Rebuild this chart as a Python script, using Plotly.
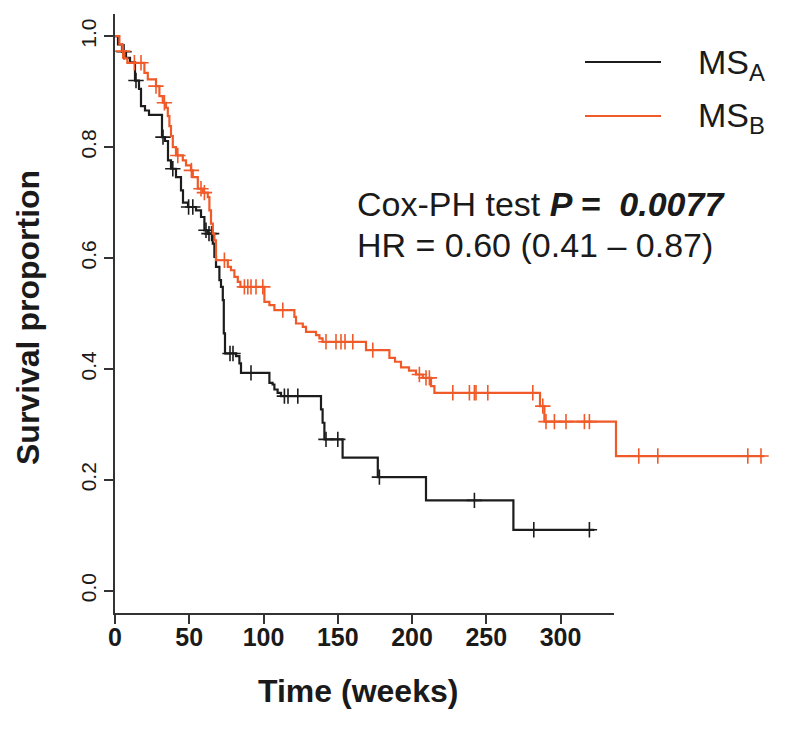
import plotly.graph_objects as go
import numpy as np

# ---- data (Kaplan-Meier steps, curve time in weeks) ----
black_t = [0, 1.5, 3.5, 5.5, 7.5, 10, 12, 13, 15, 17, 23.5, 25, 26.5, 28, 30.5, 33, 34, 36.5,
           40.5, 43, 44.7, 46.4, 48.9, 49.7, 50.5, 52.2, 53, 53.9, 54.4, 55, 60.5, 62.2, 63,
           77.2, 78.8, 79.7, 81.3, 83, 103, 103.8, 104.7, 113.8, 131.4, 155.5, 199.2]
black_s = [1.0, 0.985, 0.972, 0.961, 0.953, 0.92, 0.905, 0.874, 0.866, 0.858, 0.818, 0.811, 0.776,
           0.761, 0.746, 0.722, 0.70, 0.692, 0.686, 0.674, 0.65, 0.644, 0.626, 0.602, 0.584, 0.56,
           0.548, 0.524, 0.464, 0.428, 0.423, 0.41, 0.393, 0.375, 0.372, 0.363, 0.357, 0.351,
           0.327, 0.303, 0.273, 0.24, 0.205, 0.163, 0.110]
black_end = 239.7
black_cens = [4.5, 10.5, 24, 28.9, 36.8, 38.9, 45.5, 47, 48.3, 57.5, 59, 68, 84.7, 86.5, 91.4,
              105.5, 111.4, 132.2, 179.7, 209.4, 237.2]

orange_t = [0, 2.2, 3.7, 4.7, 6.2, 14.7, 16.4, 20.5, 22.2, 23.9, 25.5, 26.4, 27.2, 28, 28.9, 30.5,
            33.9, 35.5, 38, 38.9, 41.4, 43.9, 46.4, 47.2, 48, 48.9, 49.7, 50.5, 56.4, 58, 59.7,
            61.4, 62.7, 74.7, 77.2, 79.7, 89.7, 90.5, 93.9, 95.5, 100.5, 102.2, 103.8, 125.5,
            137.2, 140, 143, 147, 150.5, 153.9, 158, 159.7, 212.5, 214.7, 250.5]
orange_s = [1.0, 0.985, 0.973, 0.96, 0.952, 0.934, 0.922, 0.91, 0.892, 0.88, 0.871, 0.856, 0.838,
            0.82, 0.80, 0.785, 0.776, 0.767, 0.758, 0.746, 0.725, 0.718, 0.71, 0.686, 0.662, 0.644,
            0.632, 0.596, 0.584, 0.578, 0.566, 0.557, 0.548, 0.521, 0.515, 0.506, 0.494, 0.482,
            0.476, 0.467, 0.461, 0.455, 0.449, 0.434, 0.42, 0.413, 0.403, 0.397, 0.39, 0.384,
            0.369, 0.357, 0.333, 0.305, 0.243]
orange_end = 324.7
orange_cens = [3.9, 9.7, 13, 20.5, 24.7, 31.4, 38.2, 43, 44.7, 54.7, 64.7, 66.4, 68, 70.5, 73.9,
               83.9, 105.5, 110.5, 113, 115, 118.9, 128.9, 152.2, 155.5, 157.2, 168.9, 177.2,
               179.7, 180.5, 186.4, 208.9, 213.9, 215.5, 219.7, 225.5, 234.7, 237.2, 261.9,
               271.4, 316.4, 323]

x_ticks = [0, 50, 100, 150, 200, 250, 300]
y_ticks = [0.0, 0.2, 0.4, 0.6, 0.8, 1.0]

BLACK = "#1c1c1c"
ORANGE = "#F05A28"
FONT = "Liberation Sans, Arial, sans-serif"


def step_value(ts, ss, t):
    idx = np.searchsorted(np.array(ts), t, side="right") - 1
    return ss[max(idx, 0)]


fig = go.Figure()
for ts, ss, end, cens, col, name in [
    (black_t, black_s, black_end, black_cens, BLACK, "MS_A"),
    (orange_t, orange_s, orange_end, orange_cens, ORANGE, "MS_B"),
]:
    fig.add_trace(go.Scatter(x=list(ts) + [end], y=list(ss) + [ss[-1]], mode="lines",
                             line=dict(color=col, width=2.2, shape="hv"), name=name,
                             showlegend=False, xaxis="x2", yaxis="y"))
    fig.add_trace(go.Scatter(x=cens, y=[step_value(ts, ss, c) for c in cens], mode="markers",
                             marker=dict(symbol="cross-thin", size=11,
                                         line=dict(color=col, width=1.6)),
                             showlegend=False, hoverinfo="skip", xaxis="x2", yaxis="y"))
# empty trace so the labelled time axis is drawn
fig.add_trace(go.Scatter(x=[], y=[], xaxis="x", yaxis="y", showlegend=False))

L, R, T, B = 107, 13, 6, 124
PW, PH = 800 - L - R, 729 - T - B


def px(xpix):
    return (xpix - L) / PW


def py(ypix):
    return (729 - B - ypix) / PH


fig.update_layout(
    width=800, height=729,
    margin=dict(l=L, r=R, t=T, b=B),
    paper_bgcolor="white", plot_bgcolor="white",
    font=dict(family=FONT, color="#1a1a1a"),
    # labelled time axis as drawn in the reference (shorter than the plotting frame)
    xaxis=dict(domain=[0, px(606)], range=[0, 336], tickvals=x_ticks,
               ticktext=[f"<b>{v}</b>" for v in x_ticks],
               showgrid=False, zeroline=False, showline=True, linecolor="#333", linewidth=1.5,
               ticks="outside", ticklen=9, tickwidth=1.5, tickcolor="#333",
               ticklabelstandoff=-8, tickfont=dict(size=25, family=FONT), anchor="y"),
    # frame in which the curves are drawn (weeks)
    xaxis2=dict(domain=[0, 1], range=[0, 340], visible=False, anchor="y"),
    yaxis=dict(range=[-0.04, 1.04], tickvals=y_ticks, ticktext=[f"{v:.1f}" for v in y_ticks],
               showgrid=False, zeroline=False, showline=True, linecolor="#333", linewidth=1.5,
               ticks="outside", ticklen=9, tickwidth=1.5, tickcolor="#333", tickangle=-90,
               tickfont=dict(size=21, family=FONT), anchor="x"),
)

annos = [
    dict(text="<b>Time (weeks)</b>", x=px(350), y=py(683), xanchor="center", yanchor="middle",
         font=dict(size=32)),
    dict(text="<b>Survival proportion</b>", x=px(20), y=py(310), xanchor="center",
         yanchor="middle", textangle=-90, font=dict(size=32)),
    dict(text="Cox-PH test <b><i>P =&nbsp; 0.0077</i></b>", x=px(347), y=py(196),
         xanchor="left", yanchor="middle", font=dict(size=34)),
    dict(text="HR = 0.60 (0.41 – 0.87)", x=px(347), y=py(237), xanchor="left",
         yanchor="middle", font=dict(size=34)),
    dict(text="MS<sub>A</sub>", x=px(688), y=py(56), xanchor="left", yanchor="middle",
         font=dict(size=34)),
    dict(text="MS<sub>B</sub>", x=px(688), y=py(110), xanchor="left", yanchor="middle",
         font=dict(size=34)),
]
for a in annos:
    a.update(xref="paper", yref="paper", showarrow=False)
fig.update_layout(annotations=annos)

fig.add_shape(type="line", xref="paper", yref="paper", x0=px(577), x1=px(653), y0=py(54),
              y1=py(54), line=dict(color=BLACK, width=2.2))
fig.add_shape(type="line", xref="paper", yref="paper", x0=px(577), x1=px(653), y0=py(108),
              y1=py(108), line=dict(color=ORANGE, width=2.2))

fig.write_html("out.html")
